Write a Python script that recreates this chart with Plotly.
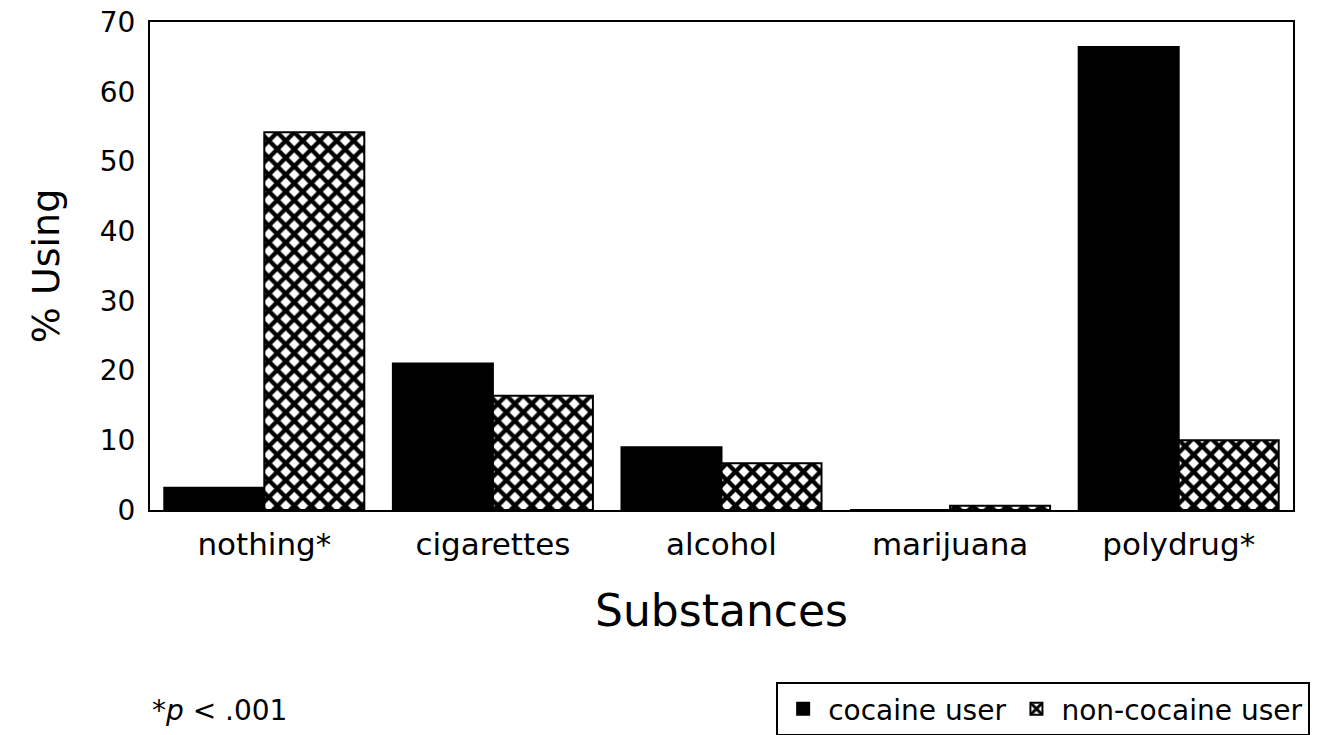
import plotly.graph_objects as go

categories = ["nothing*", "cigarettes", "alcohol", "marijuana", "polydrug*"]
cocaine_user = [3.2, 21.0, 9.0, 0.0, 66.4]
non_cocaine_user = [54.2, 16.4, 6.7, 0.6, 10.0]
series_names = ["cocaine user", "non-cocaine user"]
y_ticks = [0, 10, 20, 30, 40, 50, 60, 70]

FONT = "DejaVu Sans, Liberation Sans, Arial, sans-serif"

fig = go.Figure()
fig.add_trace(go.Bar(
    x=categories, y=cocaine_user, name=series_names[0],
    marker=dict(color="black", line=dict(color="black", width=2)),
))
fig.add_trace(go.Bar(
    x=categories, y=non_cocaine_user, name=series_names[1],
    marker=dict(color="white", line=dict(color="black", width=2),
                pattern=dict(shape="x", fgcolor="black", bgcolor="white",
                             size=12, solidity=0.6, fgopacity=1)),
))

fig.update_layout(
    width=1325, height=735,
    barmode="group", bargap=0.125, bargroupgap=0,
    plot_bgcolor="white", paper_bgcolor="white",
    margin=dict(l=150, r=32, t=22, b=225, autoexpand=False),
    font=dict(family=FONT, color="black"),
    showlegend=True,
    legend=dict(orientation="h", x=1.015, xanchor="right",
                yref="container", y=0.072, yanchor="top",
                bordercolor="black", borderwidth=2, font=dict(size=28, family=FONT),
                traceorder="normal", bgcolor="white", itemwidth=40),
    xaxis=dict(showline=True, linecolor="black", linewidth=2, mirror=True,
               ticks="", tickfont=dict(size=31, family=FONT), ticklabelstandoff=6,
               automargin=False, ticklabeloverflow="allow",
               title=dict(text="Substances", font=dict(size=44, family=FONT), standoff=34)),
    yaxis=dict(range=[0, 70], tickvals=y_ticks, showline=True, linecolor="black",
               linewidth=2, mirror=True, showgrid=False, zeroline=False, ticks="",
               tickfont=dict(size=28, family=FONT), ticklabelstandoff=7,
               automargin=False, ticklabeloverflow="allow",
               title=dict(text="% Using", font=dict(size=38, family=FONT), standoff=28)),
    annotations=[dict(text="*<i>p</i> < .001", xref="paper", yref="paper",
                      x=0.0, y=-0.41, xanchor="left", yanchor="middle",
                      showarrow=False, font=dict(size=28, family=FONT))],
)

fig.write_html("out.html",
               config={"displayModeBar": False},
               post_script="document.body.style.margin='0';document.body.style.overflow='hidden';")
